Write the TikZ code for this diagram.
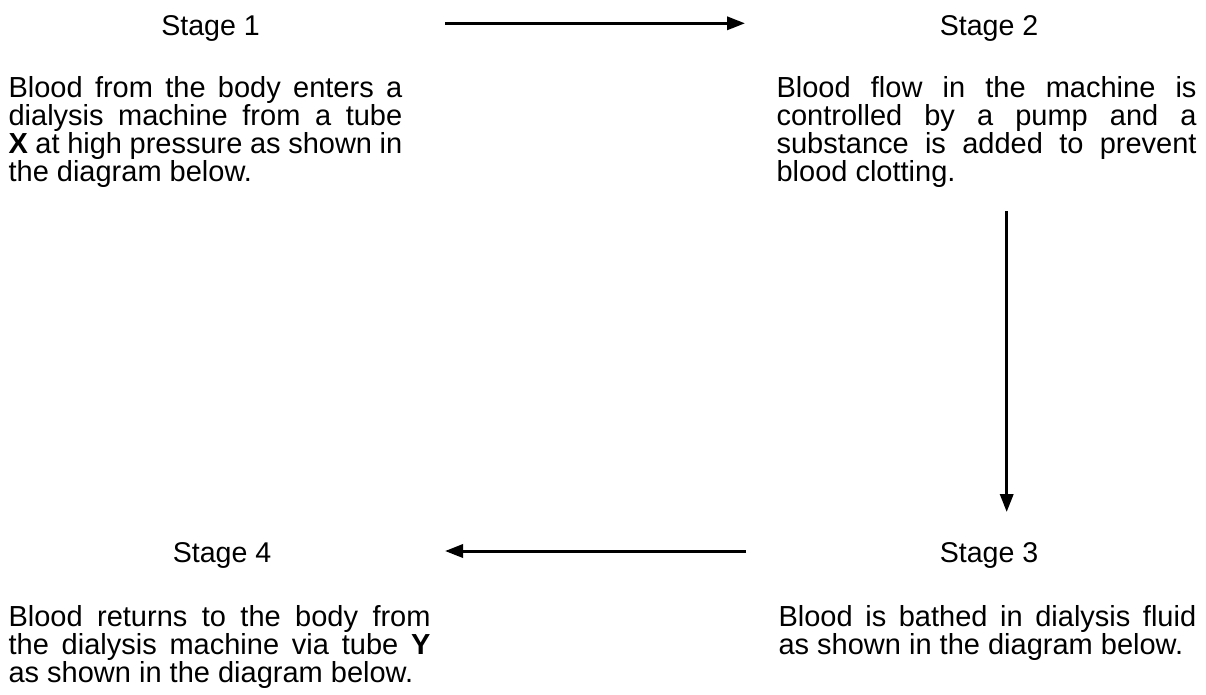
\documentclass[tikz,border=0pt]{standalone}
\usepackage{fontspec}
\setmainfont{Liberation Sans}
\usetikzlibrary{arrows.meta}
\begin{document}
\begin{tikzpicture}[x=0.35pt,y=-0.35pt,
  lbl/.style={anchor=base,inner sep=0pt,font=\fontsize{10}{9.8}\selectfont},
  para/.style={anchor=base west,inner sep=0pt,align=justify,font=\fontsize{10.15}{9.8}\selectfont},
  flow/.style={line width=1.05pt,-{Triangle[length=6.3pt,width=4.6pt]}}]
\useasboundingbox (0,0) rectangle (1206,694);

\node[lbl] (s1) at (210.5,35.7) {Stage 1};
\node[para,text width=137.8pt] (t1) at (8,97.3) {Blood from the body enters a\linebreak dialysis machine from a tube\linebreak \textbf{X} at high pressure as shown in\linebreak the diagram below.};

\node[lbl] (s2) at (989,35.7) {Stage 2};
\node[para,text width=147pt] (t2) at (776,97.3) {Blood flow in the machine is\linebreak controlled by a pump and a\linebreak substance is added to prevent\linebreak blood clotting.};

\node[lbl] (s3) at (989,562.7) {Stage 3};
\node[para,text width=146.2pt] (t3) at (778,626) {Blood is bathed in dialysis fluid\linebreak as shown in the diagram below.};

\node[lbl] (s4) at (222,562.7) {Stage 4};
\node[para,text width=147.7pt] (t4) at (8,626) {Blood returns to the body from\linebreak the dialysis machine via tube \textbf{Y}\linebreak as shown in the diagram below.};

% arrows between the stages
\coordinate (a1) at (445,23.3);
\coordinate (a2) at (745,23.3);
\coordinate (b1) at (1006.7,211);
\coordinate (b2) at (1006.7,512);
\coordinate (c1) at (746,551);
\coordinate (c2) at (445,551);
\draw[flow] (a1) -- (a2);
\draw[flow] (b1) -- (b2);
\draw[flow] (c1) -- (c2);
\end{tikzpicture}
\end{document}
